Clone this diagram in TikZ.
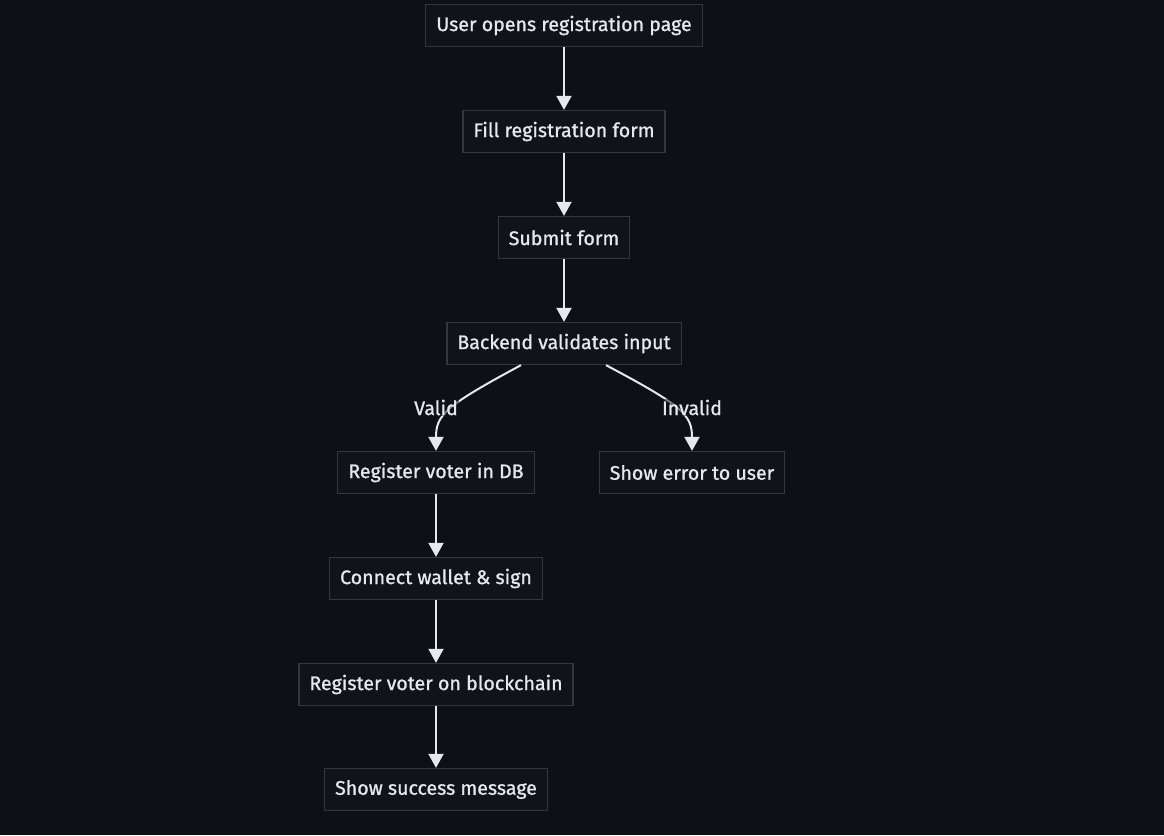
\documentclass[tikz,border=0pt]{standalone}
\usepackage{fontspec}
\setmainfont{Fira Sans}
\newfontfamily\boxfont{Fira Sans}[FakeBold=1]
\usepackage{tikz}
\usetikzlibrary{arrows.meta}
\definecolor{bgdark}{RGB}{13,16,23}
\definecolor{boxfill}{RGB}{17,19,26}
\definecolor{boxline}{RGB}{52,55,63}
\definecolor{ink}{RGB}{230,232,238}

\begin{document}
\begin{tikzpicture}[x=1pt,y=1pt,
  box/.style={draw=boxline, fill=boxfill, line width=1.3pt, text=ink,
    minimum height=42pt, inner xsep=10.5pt, font=\boxfont\fontsize{19.6}{22}\selectfont},
  flow/.style={draw=ink, line width=2pt, -{Triangle[length=14pt,width=15pt]}},
  elabel/.style={text=ink, fill=bgdark, fill opacity=0.5, text opacity=1,
    inner sep=1pt, font=\boxfont\fontsize{19.6}{22}\selectfont}]
\fill [bgdark] (0,0) rectangle (1164,-835);

\node[box] (open) at (564,-25.5) {User opens registration page};
\node[box] (form) at (564,-131.5) {Fill registration form};
\node[box] (submit) at (564,-237.5) {Submit form};
\node[box] (check) at (564,-343.5) {Backend validates input};
\node[box] (db) at (436,-472.5) {Register voter in DB};
\node[box] (error) at (692,-472.5) {Show error to user};
\node[box] (wallet) at (436,-578.5) {Connect wallet \& sign};
\node[box] (chain) at (436,-684.5) {Register voter on blockchain};
\node[box] (done) at (436,-789.5) {Show success message};

\draw [flow] (open) -- (form);
\draw [flow] (form) -- (submit);
\draw [flow] (submit) -- (check);
\draw [flow] ([xshift=-43pt]check.south) .. controls (445,-406) and (436,-415) .. (db.north);
\draw [flow] ([xshift=42pt]check.south) .. controls (683,-406) and (692,-415) .. (error.north);
\draw [flow] (db) -- (wallet);
\draw [flow] (wallet) -- (chain);
\draw [flow] (chain) -- (done);

\node[elabel] (valid) at (436,-407.5) {Valid};
\node[elabel] (invalid) at (692,-407.5) {Invalid};
\end{tikzpicture}
\end{document}
